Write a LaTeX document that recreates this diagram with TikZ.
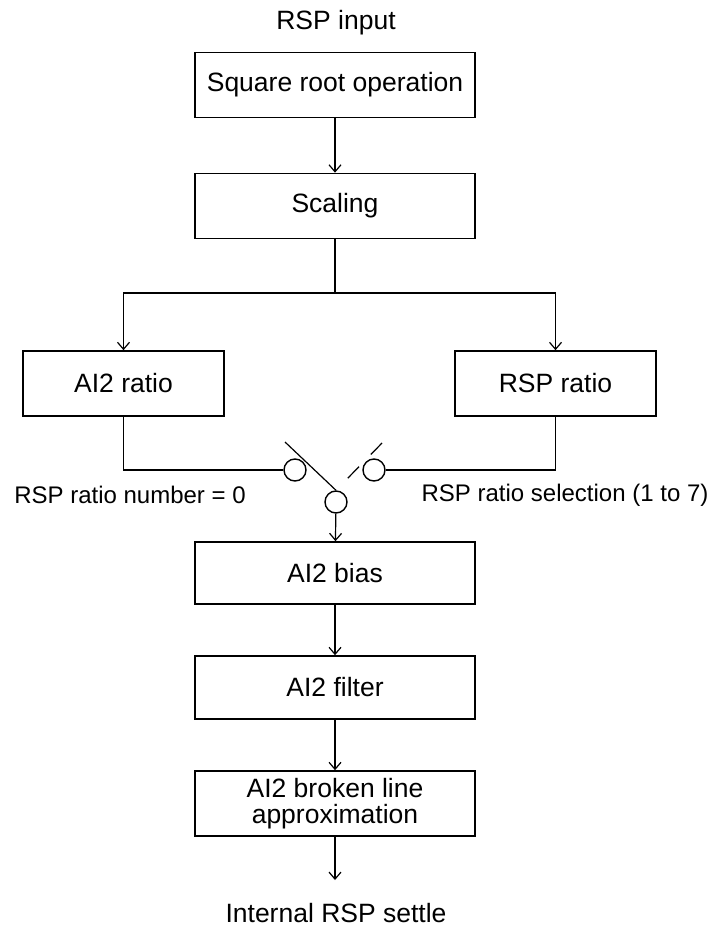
\documentclass[tikz,border=0pt]{standalone}
\usepackage{fontspec}
\setmainfont{Liberation Sans}
\usetikzlibrary{arrows.meta, positioning, calc}

\begin{document}
\begin{tikzpicture}[
    x=1pt, y=-1pt,
    every node/.style={font=\fontsize{26.5}{26}\selectfont},
    blk/.style={draw, line width=1.6pt, minimum width=280pt, minimum height=65pt, inner sep=2pt, align=center},
    ratio/.style={blk, minimum width=201pt},
    cont/.style={draw, circle, line width=1.4pt, minimum size=22pt, inner sep=0pt},
    arr/.style={-{Straight Barb[length=7pt, width=12pt]}, line width=1.2pt},
    wire/.style={line width=1.2pt},
    lbl/.style={inner sep=0pt},
    swlbl/.style={lbl, font=\fontsize{24}{26}\selectfont},
]
\useasboundingbox (0,0) rectangle (709,931);

% ── Main chain ──
\node[lbl] (in) at (336, 23) {RSP input};
\node[blk] (sqrt) at (335, 85) {Square root operation};
\node[blk] (scal) at (335, 206) {Scaling};

% ── Ratio blocks ──
\node[ratio] (ai2r) at (123.5, 383.5) {AI2 ratio};
\node[ratio] (rspr) at (555.5, 383.5) {RSP ratio};

% ── Switch ──
\node[cont] (swl) at (295, 470) {};
\node[cont] (swr) at (374, 470) {};
\node[cont] (swo) at (336, 502) {};
\coordinate (split) at (335, 293);
\coordinate (levl) at (285, 442);
\coordinate (levr) at (383, 442);

\node[swlbl] (sel0) at (130, 495) {RSP ratio number = 0};
\node[swlbl] (sel1) at (565, 495) {RSP ratio selection (1 to 7)};

% ── Lower chain ──
\node[blk, minimum height=62pt] (bias) at (335, 573) {AI2 bias};
\node[blk, minimum height=63pt] (filt) at (335, 687.5) {AI2 filter};
\node[blk] (brk) at (335, 803.5) {AI2 broken line\\approximation};
\coordinate (outend) at (335, 880);
\node[lbl] (out) at (336, 913) {Internal RSP settle};

% ── Connectors ──
\draw[arr] (sqrt) -- (scal);
\draw[wire] (scal) -- (split);
\draw[arr] (split) -| (ai2r);
\draw[arr] (split) -| (rspr.north);
\draw[wire] (ai2r) |- (swl);
\draw[wire] (rspr) |- (swr);
\draw[wire] (levl) -- (swo.north);
\draw[wire, dash pattern=on 16pt off 17pt, dash phase=16pt] (swo.north) -- (levr);
\draw[arr] (swo) -- (bias);
\draw[arr] (bias) -- (filt);
\draw[arr] (filt) -- (brk);
\draw[arr] (brk) -- (outend);

\end{tikzpicture}
\end{document}
